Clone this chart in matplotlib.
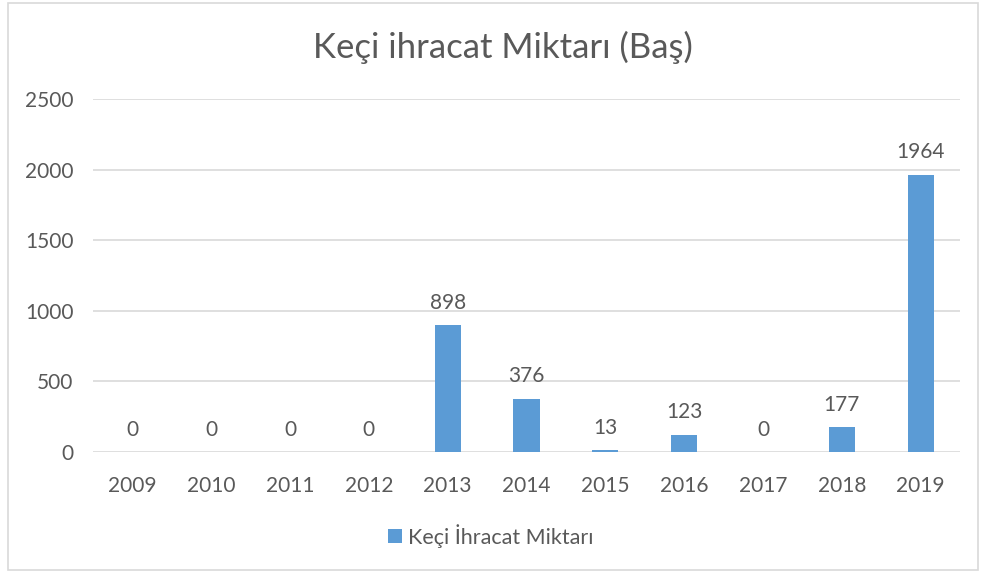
import matplotlib
matplotlib.use("Agg")
import matplotlib.pyplot as plt
from matplotlib.patches import Rectangle

# data
years = ["2009", "2010", "2011", "2012", "2013", "2014",
         "2015", "2016", "2017", "2018", "2019"]
heads = [0, 0, 0, 0, 898, 376, 13, 123, 0, 177, 1964]
y_ticks = [0, 500, 1000, 1500, 2000, 2500]

TITLE = "Keçi ihracat Miktarı (Baş)"
SERIES = "Keçi İhracat Miktarı"
BAR = "#5B9BD5"
TXT = "#595959"
GRID = "#D9D9D9"

plt.rcParams["font.family"] = ["Lato", "DejaVu Sans"]

fig = plt.figure(figsize=(9.81, 5.75), dpi=100)
ax = fig.add_axes([0.0948, 0.2139, 0.8838, 0.6139])

x = range(len(years))
bars = ax.bar(x, heads, width=0.33, color=BAR, label=SERIES, zorder=3)

for xi, v in zip(x, heads):
    ax.annotate(str(v), (xi, v), xytext=(0, 9), textcoords="offset points",
                ha="center", va="bottom", fontsize=15, color=TXT)

ax.set_xlim(-0.5, len(years) - 0.5)
ax.set_ylim(0, 2500)
ax.set_yticks(y_ticks)
ax.set_xticks(list(x))
ax.set_xticklabels(years)
ax.tick_params(axis="both", length=0, labelsize=15, labelcolor=TXT)
ax.tick_params(axis="x", pad=17)
ax.tick_params(axis="y", pad=14)
ax.grid(axis="y", color=GRID, linewidth=1.2, zorder=0)
for s in ax.spines.values():
    s.set_visible(False)

fig.text(0.513, 0.917, TITLE, ha="center", va="center",
         fontsize=25, color=TXT)

fig.legend(handles=[bars], labels=[SERIES], loc="center",
           bbox_to_anchor=(0.5, 0.068), frameon=False, fontsize=15.5,
           handlelength=0.65, handleheight=0.65, handletextpad=0.3,
           labelcolor=TXT)

# chart border like the Excel frame
fig.patches.append(Rectangle((0.008, 0.009), 0.989, 0.985,
                             transform=fig.transFigure, fill=False,
                             edgecolor="#D9D9D9", linewidth=1.2))

fig.savefig("out.png", dpi=100)
